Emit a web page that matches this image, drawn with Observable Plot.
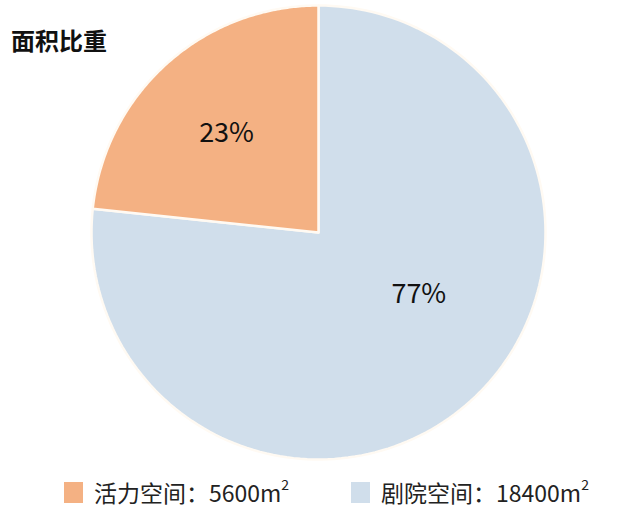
<!DOCTYPE html>
<html><head><meta charset="utf-8">
<script src="https://cdn.jsdelivr.net/npm/d3@7"></script>
<script src="https://cdn.jsdelivr.net/npm/@observablehq/plot@0.6"></script>
<style>
body{margin:0;background:#fff;font-family:"Noto Sans CJK SC","Noto Sans",sans-serif;}
#wrap{position:relative;width:624px;height:518px;}
#title{position:absolute;left:11px;top:22px;font-size:24px;font-weight:bold;color:#111;}
#legend{position:absolute;left:0;top:474px;width:624px;height:36px;font-size:23px;color:#222;}
.item{position:absolute;top:0;display:flex;align-items:center;height:36px;}
.sw{width:19px;height:21px;margin-right:11px;}
</style></head>
<body><div id="wrap"><div id="title">面积比重</div><div id="chart"></div><div id="legend"></div></div>
<script>
const categories = ["剧院空间", "活力空间"];
const areas = [18400, 5600];
const percentLabels = ["77%", "23%"];
const legendLabels = ["活力空间：5600m²", "剧院空间：18400m²"];
const colors = {"活力空间": "#F4B183", "剧院空间": "#D0DEEB"};

const data = categories.map((c, i) => ({category: c, value: areas[i], label: percentLabels[i]}));
const arcs = d3.pie().sort(null).value(d => d.value)(data);

// polygon points for each slice (angle 0 = 12 o'clock, clockwise)
const pts = [];
arcs.forEach(a => {
  const c = a.data.category;
  pts.push({category: c, x: 0, y: 0});
  const n = 160;
  for (let k = 0; k <= n; k++) {
    const t = a.startAngle + (a.endAngle - a.startAngle) * k / n;
    pts.push({category: c, x: Math.sin(t), y: Math.cos(t)});
  }
  pts.push({category: c, x: 0, y: 0});
});

// label placement (angle in degrees clockwise from top, radius fraction)
const labelPlace = {"剧院空间": [121.8, 0.52], "活力空间": [-42.9, 0.595]};
const labels = arcs.map(a => {
  const [deg, r] = labelPlace[a.data.category];
  const t = deg * Math.PI / 180;
  return {text: a.data.label, x: r * Math.sin(t), y: r * Math.cos(t)};
});

const R = 227, cx = 318, cy = 232;
const chart = Plot.plot({
  width: 624, height: 466,
  margin: 0,
  x: {domain: [-1, 1], range: [cx - R, cx + R], axis: null},
  y: {domain: [-1, 1], range: [cy + R, cy - R], axis: null},
  color: {domain: Object.keys(colors), range: Object.values(colors)},
  marks: [
    Plot.line(pts, {x: "x", y: "y", z: "category", fill: "category", stroke: "#fffaf3", strokeWidth: 2.5, strokeLinejoin: "round", curve: "linear"}),
    Plot.text(labels, {x: "x", y: "y", text: "text", fontSize: 27, fill: "#111", fontFamily: "Noto Sans CJK SC, Noto Sans, sans-serif"})
  ]
});
document.getElementById("chart").appendChild(chart);

const legend = document.getElementById("legend");
const lx = [64, 351];
["活力空间", "剧院空间"].forEach((c, i) => {
  const it = document.createElement("div");
  it.className = "item";
  it.style.left = lx[i] + "px";
  const lab = legendLabels[i].replace("m²", "m<sup style='font-size:14px;position:relative;top:-3px'>2</sup>");
  it.innerHTML = `<span class="sw" style="background:${colors[c]}"></span><span>${lab}</span>`;
  legend.appendChild(it);
});
</script></body></html>
